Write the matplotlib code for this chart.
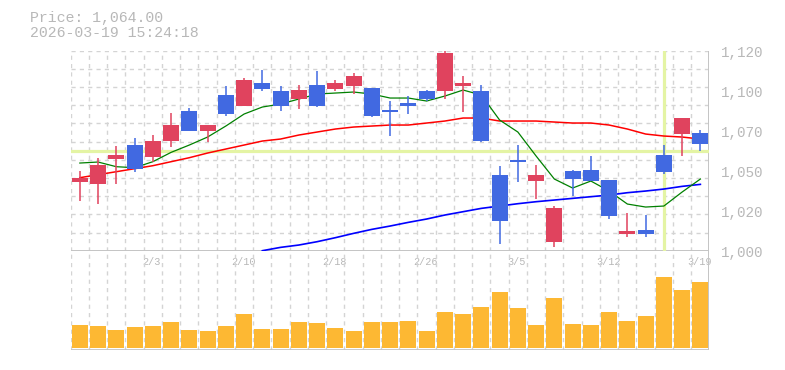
import matplotlib
matplotlib.use("Agg")
import matplotlib.pyplot as plt
import matplotlib.transforms as mtransforms
import numpy as np

# ---------------- data ----------------
dates = ["1/28", "1/29", "1/30", "2/2", "2/3", "2/4", "2/5", "2/6", "2/9", "2/10",
         "2/12", "2/13", "2/16", "2/17", "2/18", "2/19", "2/20", "2/24", "2/25", "2/26",
         "2/27", "3/2", "3/3", "3/4", "3/5", "3/6", "3/9", "3/10", "3/11", "3/12",
         "3/13", "3/16", "3/17", "3/18", "3/19"]

opens = [1041.4, 1040.2, 1055.0, 1063.4, 1056.4, 1065.8, 1083.8, 1071.8, 1093.4, 1086.8,
         1100.6, 1095.8, 1091.0, 1099.4, 1097.0, 1098.8, 1097.6, 1084.4, 1088.6, 1095.8,
         1095.8, 1098.8, 1095.8, 1045.4, 1054.4, 1041.8, 1005.2, 1047.8, 1048.4, 1042.4,
         1010.0, 1012.4, 1057.4, 1070.0, 1070.6]
highs = [1048.0, 1055.6, 1062.8, 1067.6, 1069.4, 1082.6, 1085.6, 1075.4, 1098.8, 1103.6,
         1108.4, 1098.8, 1099.4, 1107.8, 1102.4, 1106.6, 1097.6, 1089.8, 1092.8, 1096.4,
         1120.4, 1104.8, 1099.4, 1050.8, 1063.4, 1051.4, 1026.8, 1048.4, 1056.8, 1042.4,
         1022.6, 1021.4, 1063.4, 1079.6, 1072.4]
lows = [1030.0, 1028.2, 1040.2, 1047.4, 1053.0, 1062.2, 1071.8, 1065.2, 1080.8, 1086.8,
        1095.8, 1083.8, 1085.0, 1086.2, 1095.8, 1094.0, 1080.2, 1068.8, 1082.0, 1089.8,
        1091.0, 1083.2, 1065.2, 1004.0, 1041.2, 1031.0, 1002.2, 1032.8, 1041.8, 1019.0,
        1008.2, 1008.2, 1046.0, 1056.8, 1059.8]
closes = [1043.8, 1051.4, 1057.4, 1049.2, 1065.8, 1075.4, 1071.8, 1075.4, 1082.0, 1102.4,
          1097.0, 1086.8, 1096.4, 1086.8, 1100.6, 1104.8, 1080.8, 1083.2, 1086.8, 1091.0,
          1118.6, 1100.6, 1065.8, 1017.8, 1053.2, 1045.4, 1025.6, 1043.0, 1041.8, 1020.8,
          1011.8, 1010.0, 1047.2, 1079.6, 1064.0]
volumes = [70, 67, 55, 64, 67, 79, 55, 52, 67, 103,
           58, 58, 79, 76, 61, 52, 79, 79, 82, 52,
           109, 103, 124, 169, 121, 70, 151, 73, 70, 109,
           82, 97, 214, 175, 199]

ma_short = [1052.6, 1053.2, 1050.4, 1049.8, 1053.4, 1059.0, 1063.4, 1068.2, 1074.8, 1082.0,
            1086.2, 1088.0, 1091.0, 1094.0, 1094.6, 1095.2, 1094.0, 1091.6, 1091.6, 1089.8,
            1092.8, 1096.4, 1093.4, 1078.4, 1071.2, 1056.8, 1043.0, 1037.6, 1041.8, 1035.8,
            1028.0, 1026.2, 1026.8, 1035.2, 1043.0]
ma_mid = [1043.8, 1045.6, 1047.4, 1049.2, 1051.0, 1053.4, 1055.8, 1058.6, 1061.0, 1063.4,
          1065.8, 1067.0, 1069.4, 1071.2, 1073.0, 1074.2, 1074.8, 1075.4, 1075.4, 1076.6,
          1077.8, 1079.6, 1079.6, 1077.8, 1077.8, 1077.8, 1077.2, 1076.6, 1076.6, 1075.4,
          1073.0, 1070.0, 1068.8, 1068.2, 1067.0]
ma_long = [np.nan] * 10 + [1000.0, 1002.0, 1003.4, 1005.4, 1007.8, 1010.4, 1012.8, 1014.8,
                           1017.0, 1019.0, 1021.4, 1023.4, 1025.4, 1026.8, 1028.2, 1029.4,
                           1030.4, 1031.4, 1032.4, 1033.4, 1034.8, 1035.8, 1037.0, 1038.6,
                           1039.8]

ytick_values = [1000, 1024, 1048, 1072, 1096, 1120]
ytick_labels = ["1,000", "1,020", "1,050", "1,070", "1,100", "1,120"]
xlabel_dates = ["2/3", "2/10", "2/18", "2/26", "3/5", "3/12", "3/19"]
timestamp = "2026-03-19 15:24:18"
cursor_index = 32
cursor_price = 1059.8

# ---------------- style ----------------
UP = "#e0435e"
DOWN = "#4169e1"
VOL = "#fdb833"
GRID = "#d4d4d4"
AXIS = "#c4c4c4"
TEXT = "#b8b8b8"
CROSS = "#e4f4a4"
FONT = "Liberation Mono"

W, H = 785, 370
fig = plt.figure(figsize=(W / 100, H / 100), dpi=100)

left_px, right_px = 70.7, 709.5
top_px, mid_px, bot_px = 50.7, 250.7, 350.0
ax = fig.add_axes([left_px / W, 1 - mid_px / H, (right_px - left_px) / W, (mid_px - top_px) / H])
axv = fig.add_axes([left_px / W, 1 - bot_px / H, (right_px - left_px) / W, (bot_px - mid_px) / H])

n = len(dates)
x = np.arange(n)
ymin, ymax = 1000, 1120
ax.set_xlim(-0.5, n - 0.5)
ax.set_ylim(ymin, ymax)
axv.set_xlim(-0.5, n - 0.5)
axv.set_ylim(-5.1, 292.8)

for a in (ax, axv):
    for s in a.spines.values():
        s.set_visible(False)
    a.set_xticks([])
    a.set_yticks([])
    a.patch.set_alpha(0)

# grids
for k in range(n):
    ax.axvline(k - 0.5, color=GRID, lw=1.0, ls=(0, (3, 3)), zorder=0)
    axv.axvline(k - 0.5, color=GRID, lw=1.0, ls=(0, (3, 3)), zorder=0)
for yv in np.linspace(ymin, ymax, 12)[1:]:
    ax.axhline(yv, color=GRID, lw=1.0, ls=(0, (3, 3)), zorder=0)

# axis lines
ax.axhline(ymin, color=AXIS, lw=1.4, zorder=1)
ax.axvline(n - 0.5, color=AXIS, lw=1.4, zorder=1)
axv.axvline(n - 0.5, color=AXIS, lw=1.4, zorder=1)
axv.axhline(-5.1, color=AXIS, lw=2.0, zorder=1)

# crosshair
ax.axhline(cursor_price, color=CROSS, lw=2.3, zorder=1.5)
ax.axvline(cursor_index, ymin=0.01, ymax=0.995, color=CROSS, lw=2.3, zorder=1.5)

# moving averages
ax.plot(x, ma_mid, color="#ff0000", lw=1.1, zorder=2)
ax.plot(x, ma_long, color="#0000ff", lw=1.2, zorder=2)
ax.plot(x, ma_short, color="#008000", lw=0.9, zorder=2)

# candles
o = np.array(opens); c = np.array(closes)
colors = [UP if cc >= oo else DOWN for oo, cc in zip(o, c)]
ax.vlines(x, lows, highs, colors=colors, lw=1.1, zorder=3)
ax.bar(x, np.abs(c - o), bottom=np.minimum(o, c), width=0.877, color=colors,
       linewidth=0, zorder=4)

# volume
axv.bar(x, volumes, width=0.877, color=VOL, linewidth=0, zorder=3)

# y labels (right)
for v, lab in zip(ytick_values, ytick_labels):
    tr = mtransforms.blended_transform_factory(ax.transAxes, ax.transData)
    tr = tr + mtransforms.ScaledTranslation(11.5 / 100, -2 / 100, fig.dpi_scale_trans)
    ax.text(1.0, v, lab, transform=tr, ha="left", va="center", color=TEXT,
            fontsize=10.3, family=FONT)

# x labels
for lab in xlabel_dates:
    i = dates.index(lab)
    tr = mtransforms.blended_transform_factory(ax.transData, ax.transAxes)
    tr = tr + mtransforms.ScaledTranslation(-1 / 100, -11.5 / 100, fig.dpi_scale_trans)
    ax.text(i, 0, lab, transform=tr, ha="center", va="center", color=TEXT,
            fontsize=7.3, family=FONT)

# header texts
fig.text(30 / W, 1 - 18 / H, f"Price: {closes[-1]:,.2f}", ha="left", va="center",
         color=TEXT, fontsize=10.7, family=FONT)
fig.text(30 / W, 1 - 33 / H, timestamp, ha="left", va="center",
         color=TEXT, fontsize=10.7, family=FONT)

fig.savefig("out.png", dpi=100)
